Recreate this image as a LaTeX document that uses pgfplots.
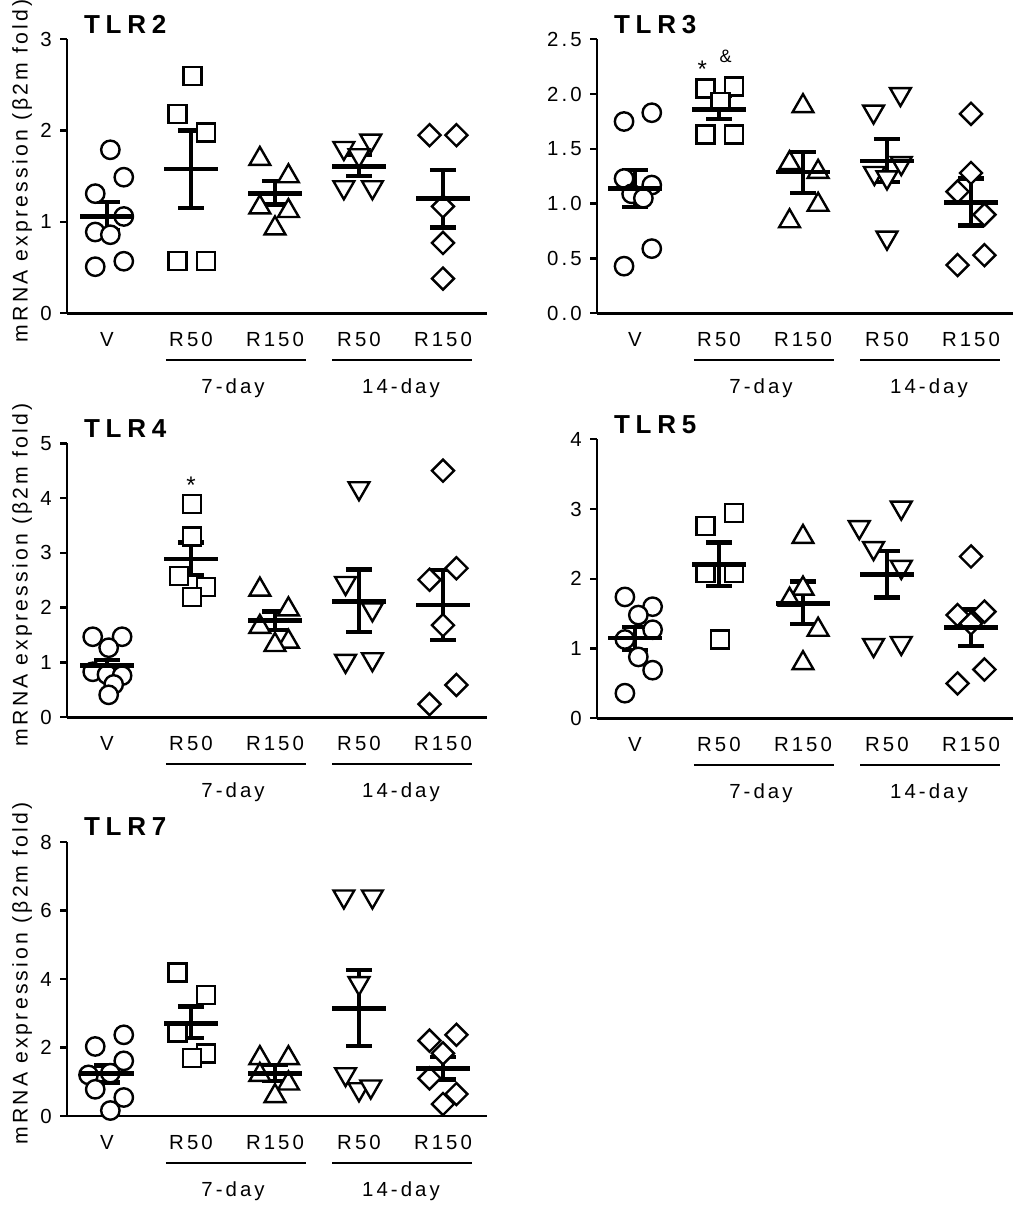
\documentclass[border=0pt]{standalone}
\usepackage{fontspec}
\setmainfont{Liberation Sans}[LetterSpace=15]
\newfontfamily\titlefont{Liberation Sans}[LetterSpace=22]
\usepackage{pgfplots}
\pgfplotsset{compat=1.18}
\newcommand\lbl{\fontsize{10.2pt}{12pt}\selectfont}
\newcommand\ylbl{\fontsize{10.6pt}{12pt}\selectfont}
\newcommand\ttl{\titlefont\fontsize{13pt}{15pt}\selectfont\bfseries}

\pgfplotsset{
 tlr/.style={scale only axis, anchor=south west, axis lines*=left, clip=false,
   axis line style={line width=1.25pt},
   xtick={0,1,2,3,4}, xticklabels={V,R50,R150,R50,R150},
   xtick style={draw=none},
   ytick style={line width=1.2pt, black},
   tick align=outside, major tick length=3.5pt,
   tick label style={font=\lbl},
   /pgf/number format/assume math mode=true,
   xticklabel style={anchor=base, inner sep=0pt, yshift=-13pt},
   yticklabel style={anchor=east, inner sep=0pt, xshift=-4pt},
   ylabel style={font=\ylbl, at={(axis description cs:-0.107,0.52)}, anchor=center},
   ymin=0,
 },
 circ/.style={only marks, mark=*, mark size=4.6pt, mark options={draw=black, fill=white, line width=1.2pt}},
 sq/.style={only marks, mark=square*, mark size=4.5pt, mark options={draw=black, fill=white, line width=1.2pt}},
 tri/.style={only marks, mark=triangle*, mark size=6pt, mark options={draw=black, fill=white, line width=1.2pt}},
 dtri/.style={only marks, mark=triangle*, mark size=6pt, mark options={draw=black, fill=white, line width=1.2pt, rotate=180}},
 dia/.style={only marks, mark=square*, mark size=3.9pt, mark options={draw=black, fill=white, line width=1.2pt, rotate=45}},
 msem/.style={only marks, black, line width=2.4pt, mark=-, mark size=13.5pt, mark options={line width=2.4pt, black},
   error bars/.cd, y dir=both, y explicit, error mark=|,
   error mark options={mark size=6.5pt, line width=2.2pt, black},
   error bar style={line width=2.1pt, black}},
}
\newcommand\groups{
 \draw[line width=0.8pt] ([yshift=-23.4pt]axis cs:0.7,0) -- ([yshift=-23.4pt]axis cs:2.37,0);
 \draw[line width=0.8pt] ([yshift=-23.4pt]axis cs:2.68,0) -- ([yshift=-23.4pt]axis cs:4.35,0);
 \node[font=\lbl, anchor=base] at ([yshift=-40.3pt]axis cs:1.5,0) {7-day};
 \node[font=\lbl, anchor=base] at ([yshift=-40.3pt]axis cs:3.5,0) {14-day};
}

\begin{document}
\begin{tikzpicture}
\useasboundingbox (0,0) rectangle (507pt,602.5pt);

% ---------------- TLR2 ----------------
\begin{axis}[tlr, at={(33.5pt,445.85pt)}, width=210pt, height=137pt,
  xmin=-0.476, xmax=4.524, ymax=3, ytick={0,1,2,3},
  ylabel={mRNA expression (β2m fold)}]
\addplot[circ] coordinates {(0.04,1.79)(0.2,1.49)(-0.14,1.31)(0.2,1.06)(-0.14,0.89)(0.04,0.86)(0.2,0.57)(-0.14,0.51)};
\addplot[sq] coordinates {(1.02,2.60)(0.84,2.18)(1.18,1.98)(0.84,0.57)(1.18,0.57)};
\addplot[tri] coordinates {(1.82,1.69)(2.16,1.50)(1.82,1.16)(2.16,1.12)(2.0,0.93)};
\addplot[dtri] coordinates {(2.82,1.81)(3.14,1.89)(3.0,1.73)(2.82,1.38)(3.16,1.38)};
\addplot[dia] coordinates {(3.84,1.95)(4.16,1.95)(4.0,1.17)(4.0,0.77)(4.0,0.38)};
\addplot[msem] coordinates {(0,1.06) += (0,0.16) -= (0,0.15)
 (1,1.58) += (0,0.42) -= (0,0.43)
 (2,1.31) += (0,0.14) -= (0,0.12)
 (3,1.61) += (0,0.12) -= (0,0.11)
 (4,1.26) += (0,0.31) -= (0,0.32)};
\groups
\node[font=\ttl, anchor=base west] at ([xshift=5pt,yshift=3pt]rel axis cs:0,1) {TLR2};
\end{axis}

% ---------------- TLR3 ----------------
\begin{axis}[tlr, at={(298.5pt,445.85pt)}, width=208pt, height=137pt,
  xmin=-0.452, xmax=4.5, ymax=2.5, ytick={0,0.5,1,1.5,2,2.5},
  yticklabel style={/pgf/number format/.cd, fixed, fixed zerofill, precision=1}]
\addplot[circ] coordinates {(-0.13,1.75)(0.2,1.83)(-0.13,1.23)(0.2,1.17)(-0.04,1.09)(0.1,1.05)(0.2,0.59)(-0.13,0.43)};
\addplot[sq] coordinates {(0.84,2.05)(1.18,2.07)(1.02,1.93)(0.84,1.63)(1.18,1.63)};
\addplot[tri] coordinates {(2.0,1.89)(1.84,1.37)(2.18,1.29)(2.18,0.99)(1.84,0.84)};
\addplot[dtri] coordinates {(2.84,1.84)(3.16,2.0)(2.85,1.28)(3.0,1.24)(3.17,1.37)(3.0,0.69)};
\addplot[dia] coordinates {(4.0,1.82)(4.0,1.28)(3.84,1.11)(4.16,0.90)(3.84,0.44)(4.16,0.53)};
\addplot[msem] coordinates {(0,1.14) += (0,0.17) -= (0,0.17)
 (1,1.86) += (0,0.12) -= (0,0.09)
 (2,1.29) += (0,0.18) -= (0,0.19)
 (3,1.39) += (0,0.20) -= (0,0.19)
 (4,1.01) += (0,0.22) -= (0,0.21)};
\node[font=\fontsize{12pt}{13pt}\selectfont] at (axis cs:0.8,2.23) {*};
\node[font=\fontsize{9pt}{10pt}\selectfont] at (axis cs:1.08,2.34) {\&};
\groups
\node[font=\ttl, anchor=base west] at ([xshift=5pt,yshift=3pt]rel axis cs:0,1) {TLR3};
\end{axis}

% ---------------- TLR4 ----------------
\begin{axis}[tlr, at={(33.5pt,243.85pt)}, width=210pt, height=137pt,
  xmin=-0.476, xmax=4.524, ymax=5, ytick={0,1,2,3,4,5},
  ylabel={mRNA expression (β2m fold)}]
\addplot[circ] coordinates {(-0.17,1.47)(0.18,1.47)(0.02,1.27)(-0.17,0.83)(0.0,0.78)(0.18,0.76)(0.08,0.6)(0.02,0.41)};
\addplot[sq] coordinates {(1.01,3.89)(1.01,3.30)(0.86,2.58)(1.18,2.38)(1.01,2.20)};
\addplot[tri] coordinates {(1.82,2.33)(2.16,1.97)(1.82,1.65)(2.16,1.38)(2.0,1.32)};
\addplot[dtri] coordinates {(3.0,4.18)(2.84,2.45)(3.16,1.97)(2.84,1.03)(3.16,1.06)};
\addplot[dia] coordinates {(4.0,4.50)(4.16,2.72)(3.84,2.51)(4.0,1.68)(4.16,0.59)(3.84,0.24)};
\addplot[msem] coordinates {(0,0.95) += (0,0.10) -= (0,0.11)
 (1,2.89) += (0,0.30) -= (0,0.29)
 (2,1.76) += (0,0.17) -= (0,0.17)
 (3,2.11) += (0,0.59) -= (0,0.55)
 (4,2.05) += (0,0.64) -= (0,0.64)};
\node[font=\fontsize{12pt}{13pt}\selectfont] at (axis cs:1.0,4.23) {*};
\groups
\node[font=\ttl, anchor=base west] at ([xshift=5pt,yshift=3pt]rel axis cs:0,1) {TLR4};
\end{axis}

% ---------------- TLR5 ----------------
\begin{axis}[tlr, at={(298.5pt,243.35pt)}, width=208pt, height=139.5pt,
  xmin=-0.452, xmax=4.5, ymax=4, ytick={0,1,2,3,4}]
\addplot[circ] coordinates {(-0.12,1.74)(0.21,1.60)(0.04,1.48)(0.21,1.27)(-0.12,1.13)(0.04,0.88)(0.21,0.69)(-0.12,0.36)};
\addplot[sq] coordinates {(0.84,2.76)(1.18,2.94)(0.84,2.08)(1.18,2.08)(1.01,1.13)};
\addplot[tri] coordinates {(2.0,2.60)(2.0,1.86)(1.84,1.70)(2.18,1.27)(2.0,0.79)};
\addplot[dtri] coordinates {(2.67,2.74)(3.17,3.02)(2.84,2.44)(3.17,2.17)(2.84,1.05)(3.17,1.08)};
\addplot[dia] coordinates {(4.0,2.32)(4.16,1.53)(3.84,1.48)(4.0,1.36)(4.16,0.70)(3.84,0.50)};
\addplot[msem] coordinates {(0,1.15) += (0,0.16) -= (0,0.17)
 (1,2.21) += (0,0.31) -= (0,0.31)
 (2,1.65) += (0,0.31) -= (0,0.30)
 (3,2.06) += (0,0.34) -= (0,0.33)
 (4,1.30) += (0,0.26) -= (0,0.26)};
\groups
\node[font=\ttl, anchor=base west] at ([xshift=5pt,yshift=3pt]rel axis cs:0,1) {TLR5};
\end{axis}

% ---------------- TLR7 ----------------
\begin{axis}[tlr, at={(33.5pt,44.5pt)}, width=210pt, height=137pt,
  xmin=-0.476, xmax=4.524, ymax=8, ytick={0,2,4,6,8},
  ylabel={mRNA expression (β2m fold)}]
\addplot[circ] coordinates {(0.2,2.37)(-0.14,2.03)(0.2,1.61)(-0.22,1.20)(0.04,1.25)(-0.14,0.78)(0.2,0.54)(0.04,0.16)};
\addplot[sq] coordinates {(0.84,4.19)(1.18,3.54)(0.84,2.44)(1.18,1.83)(1.01,1.69)};
\addplot[tri] coordinates {(1.82,1.69)(2.16,1.69)(1.82,1.20)(2.16,0.95)(2.0,0.58)};
\addplot[dtri] coordinates {(2.82,6.41)(3.16,6.41)(3.0,3.88)(2.84,1.22)(3.0,0.78)(3.14,0.86)};
\addplot[dia] coordinates {(3.84,2.20)(4.16,2.37)(4.0,1.83)(3.84,1.10)(4.16,0.64)(4.0,0.35)};
\addplot[msem] coordinates {(0,1.25) += (0,0.22) -= (0,0.27)
 (1,2.71) += (0,0.49) -= (0,0.44)
 (2,1.25) += (0,0.24) -= (0,0.22)
 (3,3.15) += (0,1.12) -= (0,1.10)
 (4,1.39) += (0,0.33) -= (0,0.32)};
\groups
\node[font=\ttl, anchor=base west] at ([xshift=5pt,yshift=3pt]rel axis cs:0,1) {TLR7};
\end{axis}
\end{tikzpicture}
\end{document}
